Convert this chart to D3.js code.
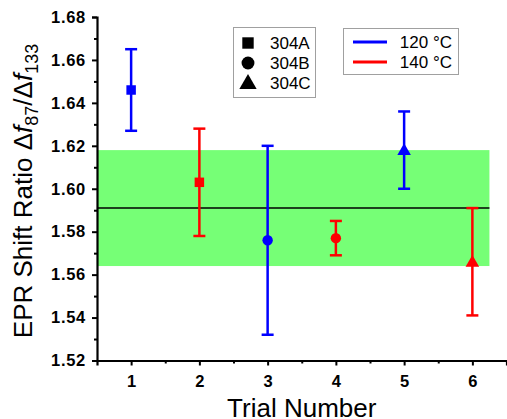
<!DOCTYPE html>
<html><head><meta charset="utf-8">
<script src="https://cdn.jsdelivr.net/npm/d3@7"></script>
<style>body{margin:0;background:#fff}svg{display:block}text{font-family:"Liberation Sans",Arial,sans-serif}</style>
</head><body><svg id="c" width="507" height="419"></svg>
<script>
const trials = [1, 2, 3, 4, 5, 6];
const ratios = [1.646, 1.603, 1.576, 1.577, 1.618, 1.566];
const errHigh = [1.665, 1.628, 1.620, 1.585, 1.636, 1.591];
const errLow = [1.627, 1.578, 1.532, 1.569, 1.600, 1.541];
const samples = ["304A", "304A", "304B", "304B", "304C", "304C"];
const temps = ["120 °C", "140 °C", "120 °C", "140 °C", "120 °C", "140 °C"];
const sampleNames = ["304A", "304B", "304C"];
const tempNames = ["120 °C", "140 °C"];
const meanValue = 1.591;
const bandLow = 1.564;
const bandHigh = 1.618;
const bandEnd = 6.25;
const yTicks = [1.52, 1.54, 1.56, 1.58, 1.60, 1.62, 1.64, 1.66, 1.68];

const svg = d3.select("#c");
const x = d3.scaleLinear().domain([0.5, 6.5]).range([97, 506.5]);
const y = d3.scaleLinear().domain([1.52, 1.68]).range([360.5, 17]);
const color = d3.scaleOrdinal().domain(tempNames).range(["#0000ff", "#ff0000"]);
const shape = d3.scaleOrdinal().domain(sampleNames).range([d3.symbolSquare, d3.symbolCircle, d3.symbolTriangle]);
const shapeSize = d3.scaleOrdinal().domain(sampleNames).range([90, 85, 80]);

// band
svg.append("rect").attr("x", x(0.5)).attr("width", x(bandEnd) - x(0.5))
  .attr("y", y(bandHigh)).attr("height", y(bandLow) - y(bandHigh)).attr("fill", "#76ff76");
svg.append("line").attr("x1", x(0.5)).attr("x2", x(bandEnd)).attr("y1", y(meanValue)).attr("y2", y(meanValue))
  .attr("stroke", "#000").attr("stroke-width", 1.5);

// axes
const xAx = svg.append("g").attr("transform", `translate(0,${y(1.52)})`)
  .call(d3.axisBottom(x).tickValues(trials).tickFormat(d3.format("d")).tickSize(5).tickPadding(10));
const xMinor = svg.append("g").attr("transform", `translate(0,${y(1.52)})`)
  .call(d3.axisBottom(x).tickValues([1.5, 2.5, 3.5, 4.5, 5.5, 6.5]).tickFormat("").tickSize(3));
const yAx = svg.append("g").attr("transform", `translate(${x(0.5)},0)`)
  .call(d3.axisLeft(y).tickValues(yTicks).tickFormat(d3.format(".2f")).tickSize(5).tickPadding(6));
const yMinor = svg.append("g").attr("transform", `translate(${x(0.5)},0)`)
  .call(d3.axisLeft(y).tickValues(yTicks.slice(0, -1).map(v => +(v + 0.01).toFixed(2))).tickFormat("").tickSize(3));
[xAx, xMinor, yAx, yMinor].forEach(g => {
  g.selectAll(".domain").attr("stroke", "#000").attr("stroke-width", 2.2);
  g.selectAll(".tick line").attr("stroke", "#000").attr("stroke-width", 2);
  g.selectAll(".tick text").attr("font-size", 16.5).attr("font-weight", "bold").attr("fill", "#000")
    .style("font-family", '"Liberation Sans",Arial,sans-serif');
});
yAx.selectAll(".tick text").style("letter-spacing", "0.7px");
xMinor.select(".domain").remove();
yMinor.select(".domain").remove();

// error bars
const eb = svg.append("g");
trials.forEach((t, i) => {
  const c = color(temps[i]);
  const g = eb.append("g").attr("stroke", c).attr("stroke-width", 2.5);
  g.append("line").attr("x1", x(t)).attr("x2", x(t)).attr("y1", y(errLow[i])).attr("y2", y(errHigh[i]));
  g.append("line").attr("x1", x(t) - 6).attr("x2", x(t) + 6).attr("y1", y(errLow[i])).attr("y2", y(errLow[i]));
  g.append("line").attr("x1", x(t) - 6).attr("x2", x(t) + 6).attr("y1", y(errHigh[i])).attr("y2", y(errHigh[i]));
  eb.append("path").attr("d", d3.symbol().type(shape(samples[i])).size(shapeSize(samples[i]))())
    .attr("transform", `translate(${x(t)},${y(ratios[i]) + (samples[i] === "304C" ? 1 : 0)})`).attr("fill", c);
});

// legend 1
svg.append("rect").attr("x", 233.5).attr("y", 27.5).attr("width", 82).attr("height", 70)
  .attr("fill", "#fff").attr("stroke", "#a0a0a0").attr("stroke-width", 1);
sampleNames.forEach((s, i) => {
  const yy = 43 + i * 20;
  svg.append("path").attr("d", d3.symbol().type(shape(s)).size(130)())
    .attr("transform", `translate(248,${yy + (i === 2 ? 1 : 0)})`).attr("fill", "#000");
  svg.append("text").attr("x", 270).attr("y", yy + 6).attr("font-size", 17).text(s);
});
// legend 2
svg.append("rect").attr("x", 343.5).attr("y", 28.5).attr("width", 115).attr("height", 46)
  .attr("fill", "#fff").attr("stroke", "#a0a0a0").attr("stroke-width", 1);
tempNames.forEach((t, i) => {
  const yy = 42 + i * 20;
  svg.append("line").attr("x1", 353).attr("x2", 387).attr("y1", yy).attr("y2", yy)
    .attr("stroke", color(t)).attr("stroke-width", 3);
  svg.append("text").attr("x", 452).attr("y", yy + 6).attr("font-size", 17).attr("text-anchor", "end").text(t);
});

// axis titles
svg.append("text").attr("x", x(3.5) + 0).attr("y", 417).attr("text-anchor", "middle")
  .attr("font-size", 26).text("Trial Number");
const yt = svg.append("text").attr("transform", "translate(32,191) rotate(-90)")
  .attr("text-anchor", "middle").attr("font-size", 26);
yt.append("tspan").text("EPR Shift Ratio Δ");
yt.append("tspan").attr("font-style", "italic").text("f");
yt.append("tspan").attr("font-size", 18).attr("dy", 6).text("87");
yt.append("tspan").attr("dy", -6).text("/Δ");
yt.append("tspan").attr("font-style", "italic").text("f");
yt.append("tspan").attr("font-size", 18).attr("dy", 6).text("133");
</script></body></html>
